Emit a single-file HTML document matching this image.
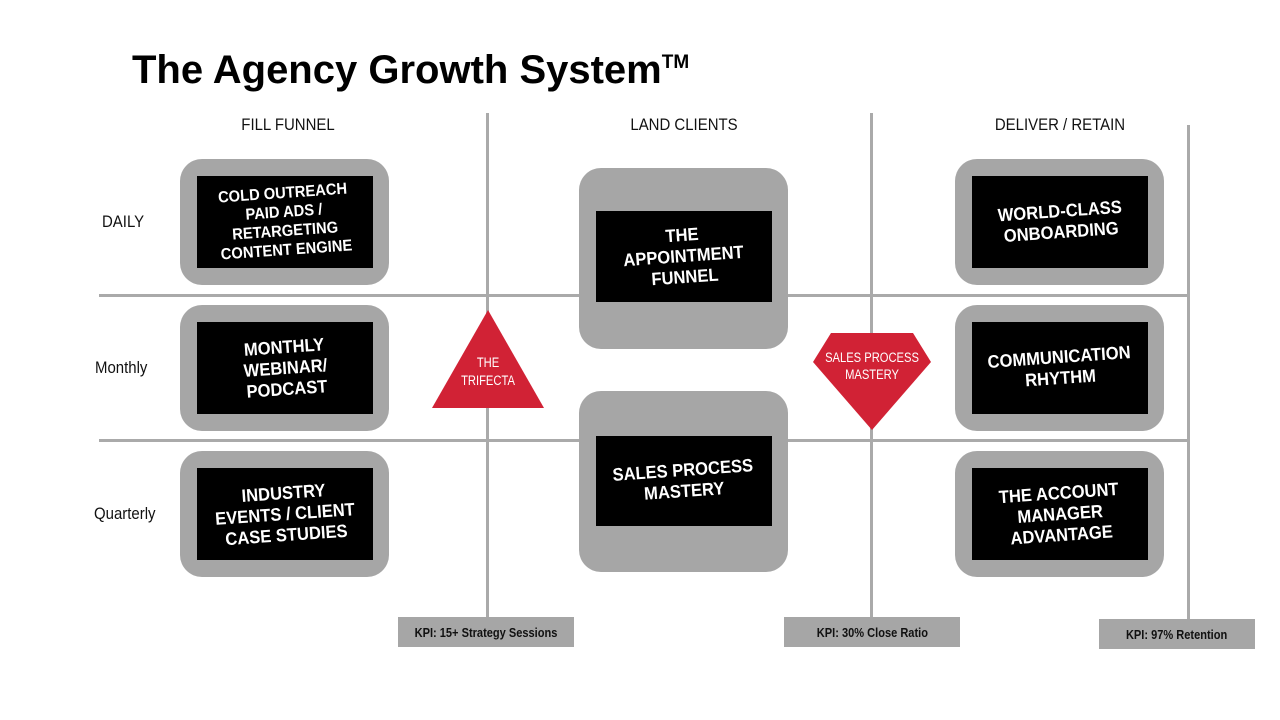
<!DOCTYPE html>
<html><head><meta charset="utf-8"><style>
body{margin:0;width:1280px;height:720px;background:#fff;position:relative;overflow:hidden;font-family:"Liberation Sans",sans-serif}
.a{position:absolute}
.hl{position:absolute;background:#aaa;height:3px}
.vl{position:absolute;background:#aaa;width:3px}
.g{position:absolute;background:#a6a6a6;border-radius:22px;width:209px}
.k{position:absolute;background:#000;width:176px;display:flex;align-items:center;justify-content:center;text-align:center;color:#fff;font-weight:900;font-size:16px;line-height:19px}
.k span{display:block;transform:rotate(-4deg) scaleX(0.92)}
.hd{position:absolute;font-size:17px;color:#111;transform:scaleX(0.88);transform-origin:center}
.rl{position:absolute;font-size:17px;color:#111;transform:scaleX(0.88);transform-origin:left}
.kpi{position:absolute;background:#a6a6a6;height:30px;display:flex;align-items:center;justify-content:center;font-weight:bold;font-size:13px;color:#111}
.kpi span{transform:scaleX(0.85)}
</style></head><body>
<div class="a" style="left:132px;top:48px;font-size:40px;font-weight:900;color:#000;white-space:nowrap">The Agency Growth System<sup style="font-size:19px;vertical-align:top;position:relative;top:4px">TM</sup></div>

<div class="hd" style="left:188px;width:200px;top:115px;text-align:center">FILL FUNNEL</div>
<div class="hd" style="left:584px;width:200px;top:115px;text-align:center">LAND CLIENTS</div>
<div class="hd" style="left:960px;width:200px;top:115px;text-align:center">DELIVER / RETAIN</div>
<div class="rl" style="left:102px;top:212px">DAILY</div>
<div class="rl" style="left:95px;top:358px">Monthly</div>
<div class="rl" style="left:94px;top:504px">Quarterly</div>

<div class="hl" style="left:99px;width:1091px;top:294px"></div>
<div class="hl" style="left:99px;width:1091px;top:439px"></div>
<div class="vl" style="left:486px;top:113px;height:504px"></div>
<div class="vl" style="left:870px;top:113px;height:504px"></div>
<div class="vl" style="left:1187px;top:125px;height:495px"></div>

<div class="g" style="left:180px;top:159px;height:126px"></div><div class="k" style="left:197px;top:176px;height:92px"><span>COLD OUTREACH<br>PAID ADS /<br>RETARGETING<br>CONTENT ENGINE</span></div>
<div class="g" style="left:180px;top:305px;height:126px"></div><div class="k" style="left:197px;top:322px;height:92px"><span style="font-size:18px;line-height:21px">MONTHLY<br>WEBINAR/<br>PODCAST</span></div>
<div class="g" style="left:180px;top:451px;height:126px"></div><div class="k" style="left:197px;top:468px;height:92px"><span style="font-size:18px;line-height:21px">INDUSTRY<br>EVENTS / CLIENT<br>CASE STUDIES</span></div>

<div class="g" style="left:579px;top:168px;height:181px"></div><div class="k" style="left:596px;top:211px;height:91px"><span style="font-size:18px;line-height:21px">THE<br>APPOINTMENT<br>FUNNEL</span></div>
<div class="g" style="left:579px;top:391px;height:181px"></div><div class="k" style="left:596px;top:436px;height:90px"><span style="font-size:18px;line-height:21px">SALES PROCESS<br>MASTERY</span></div>

<div class="g" style="left:955px;top:159px;height:126px"></div><div class="k" style="left:972px;top:176px;height:92px"><span style="font-size:18px;line-height:21px">WORLD-CLASS<br>ONBOARDING</span></div>
<div class="g" style="left:955px;top:305px;height:126px"></div><div class="k" style="left:972px;top:322px;height:92px"><span style="font-size:18px;line-height:21px">COMMUNICATION<br>RHYTHM</span></div>
<div class="g" style="left:955px;top:451px;height:126px"></div><div class="k" style="left:972px;top:468px;height:92px"><span style="font-size:18px;line-height:21px">THE ACCOUNT<br>MANAGER<br>ADVANTAGE</span></div>

<svg class="a" style="left:0;top:0" width="1280" height="720">
<polygon points="488,310 544,408 432,408" fill="#d12235"/>
<polygon points="831,333 913,333 931,362 872,430 813,362" fill="#d12235"/>
<g fill="#fff" font-family="Liberation Sans, sans-serif" font-size="14" text-anchor="middle">
<text x="0" y="367" transform="translate(488 0) scale(0.8 1)">THE</text><text transform="translate(488 0) scale(0.8 1)" x="0" y="385">TRIFECTA</text>
<text transform="translate(872 0) scale(0.8 1)" x="0" y="362">SALES PROCESS</text><text transform="translate(872 0) scale(0.8 1)" x="0" y="379">MASTERY</text>
</g></svg>

<div class="kpi" style="left:398px;top:617px;width:176px"><span>KPI: 15+ Strategy Sessions</span></div>
<div class="kpi" style="left:784px;top:617px;width:176px"><span>KPI: 30% Close Ratio</span></div>
<div class="kpi" style="left:1099px;top:619px;width:156px"><span>KPI: 97% Retention</span></div>
</body></html>
